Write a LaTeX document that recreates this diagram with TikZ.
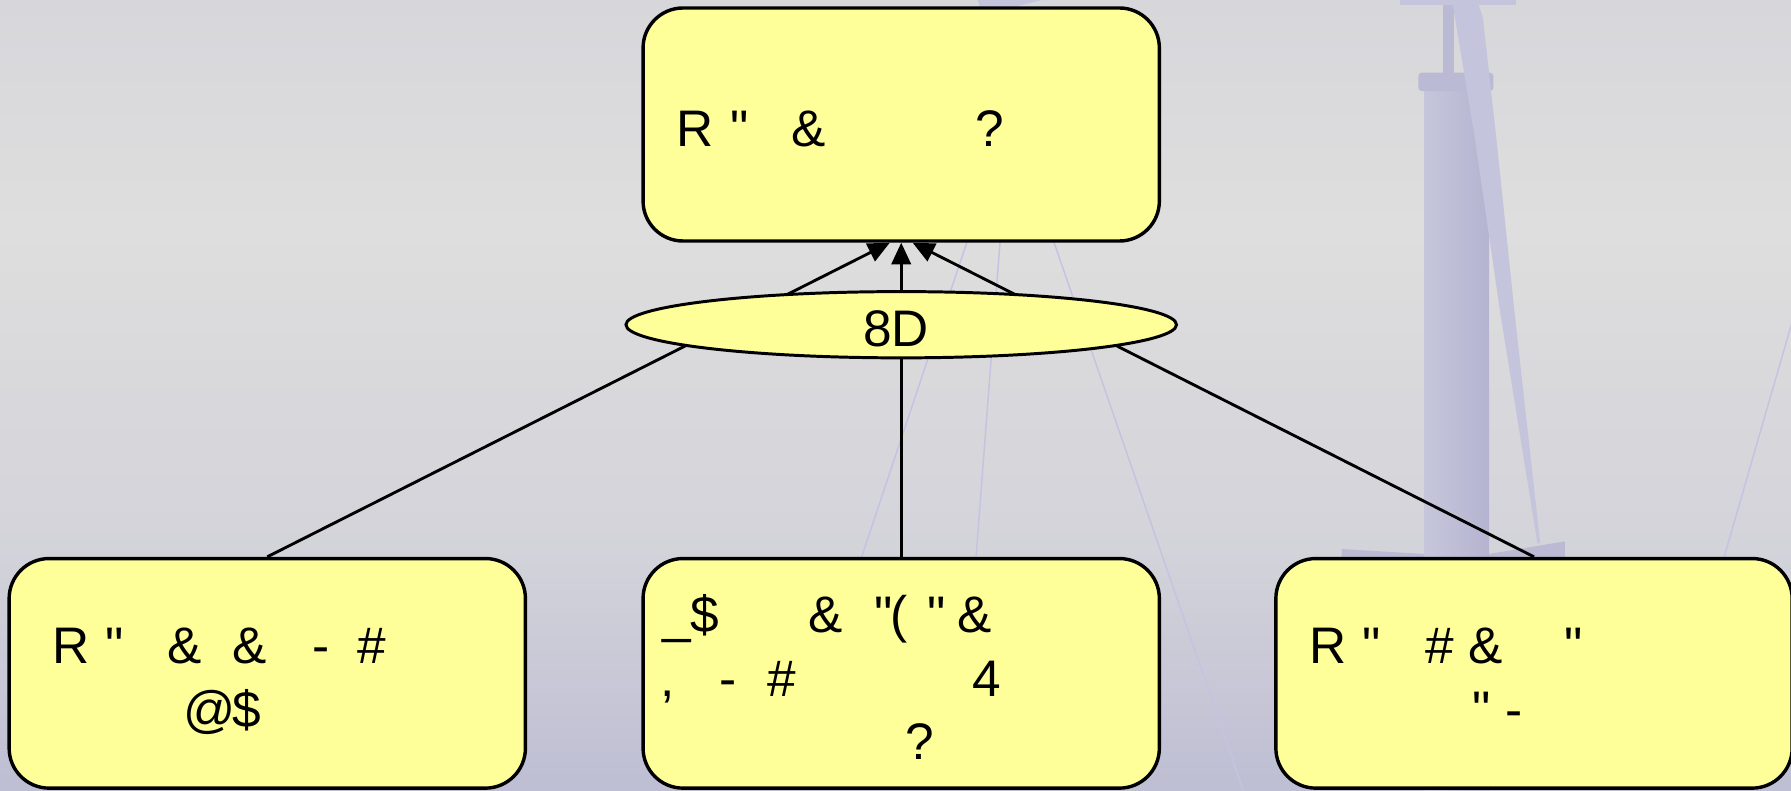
\documentclass[tikz,border=0pt]{standalone}
\usepackage{fontspec}
\setmainfont{Liberation Sans}
\usetikzlibrary{arrows.meta,shapes.geometric}
\newfontfamily\bodyfont{Liberation Sans}
\newcommand\gl[2]{\makebox[0pt][l]{\hspace*{#1pt}#2}}
\definecolor{boxfill}{RGB}{255,255,153}
\definecolor{bgtop}{RGB}{215,215,219}
\definecolor{bgmid}{RGB}{222,222,222}
\definecolor{bglow}{RGB}{211,211,218}
\definecolor{bgbot}{RGB}{190,190,212}
\definecolor{towerL}{RGB}{198,198,219}
\definecolor{towerR}{RGB}{180,180,208}
\definecolor{bladec}{RGB}{196,196,220}
\definecolor{partc}{RGB}{186,186,212}
\definecolor{faint}{RGB}{196,196,226}
\tikzset{
  box/.style={draw=black, line width=3pt, fill=boxfill, rounded corners=35pt,
    minimum width=452pt, minimum height=#1, inner sep=0pt},
  oval/.style={draw=black, line width=2.6pt, fill=boxfill, ellipse,
    minimum width=482pt, minimum height=58pt, inner sep=0pt},
  txt/.style={inner sep=0pt, anchor=base west, font=\bodyfont\fontsize{45}{54}\selectfont},
  conn/.style={line width=2.5pt, draw=black, -{Triangle[length=19pt,width=17pt]}},
  faintline/.style={draw=faint, line width=1.3pt},
}
\begin{document}
\begin{tikzpicture}[x=1pt,y=-1pt]
\useasboundingbox (0,0) rectangle (1568,692);
% background
\shade[top color=bgtop, bottom color=bgmid] (0,0) rectangle (1568,200);
\shade[top color=bgmid, bottom color=bglow] (0,200) rectangle (1568,480);
\shade[top color=bglow, bottom color=bgbot] (0,480) rectangle (1568,692);
% background turbine (right)
\fill[bladec] (1225.6,0) rectangle (1327.3,4);
\fill[partc] (1263.6,4) rectangle (1273,64);
\shade[left color=towerL, right color=towerR] (1246.7,79) rectangle (1303.6,692);
\fill[partc, rounded corners=3pt] (1241.7,63.6) rectangle (1307.4,79.7);
\fill[bladec] (1271.9,4) -- (1290.9,118.9) -- (1313.3,273) -- (1346,475.7)
  -- (1348.4,475.7) -- (1325.9,273) -- (1309.8,118.9) -- (1298.2,15) -- (1294.4,4) -- cycle;
\fill[partc] (1174.6,480.7) -- (1246.7,485) -- (1246.7,492) -- (1174.6,492) -- cycle;
\fill[partc] (1303.6,485) -- (1370,474) -- (1370,492) -- (1303.6,492) -- cycle;
\draw[faintline] (1590,209) -- (1490,555);
% background turbine (centre, hub hidden)
\fill[bladec] (856,0) -- (912,0) -- (885,7) -- (858,7) -- cycle;
\coordinate (hub) at (884,100);
\coordinate (ba) at (686,692);
\coordinate (bb) at (839,692);
\coordinate (bc) at (1088.5,692);
\draw[faintline] (hub) -- (ba);
\draw[faintline] (hub) -- (bb);
\draw[faintline] (hub) -- (bc);
% nodes
\node[box=204pt] (top) at (789,109) {};
\node[box=201pt] (bl) at (234,589.5) {};
\node[box=201pt] (bm) at (789,589.5) {};
\node[box=201pt] (br) at (1343,589.5) {};
% connectors
\draw[conn] (bl.north) -- ([xshift=-10pt]top.south);
\draw[conn] (bm.north) -- (top.south);
\draw[conn] (br.north) -- ([xshift=10pt]top.south);
\node[oval] (mid) at (789,284.3) {};
\node[txt] (midt) at (755.6,303) {8D};
% texts
\node[txt] (t1) at (591.4,128.5) {\gl{0}{R}\gl{47.6}{"}\gl{101.1}{\&}\gl{261.8}{?}};
\node[txt] (l1) at (44.9,581.3) {\gl{0}{R}\gl{46.9}{"}\gl{100.7}{\&}\gl{157.9}{\&}\gl{228.1}{-}\gl{267.3}{\#}};
\node[txt] (l2) at (159.9,636.5) {\gl{0}{@}\gl{42.5}{\$}};
\node[txt] (m1) at (579.7,554) {\gl{0}{\_}\gl{24.1}{\$}\gl{127.8}{\&}\gl{185.5}{"}\gl{198.9}{(}\gl{231.7}{"}\gl{258.3}{\&}};
\node[txt] (m2) at (577.2,609.5) {\gl{0}{,}\gl{52.3}{-}\gl{94.3}{\#}\gl{273.2}{4}};
\node[txt] (m3) at (792.4,664.8) {\gl{0}{?}};
\node[txt] (r1) at (1145.4,581.3) {\gl{0}{R}\gl{46.8}{"}\gl{101.9}{\#}\gl{139.6}{\&}\gl{223.8}{"}};
\node[txt] (r2) at (1288.3,636.5) {\gl{0}{"}\gl{29.2}{-}};
\end{tikzpicture}
\end{document}
